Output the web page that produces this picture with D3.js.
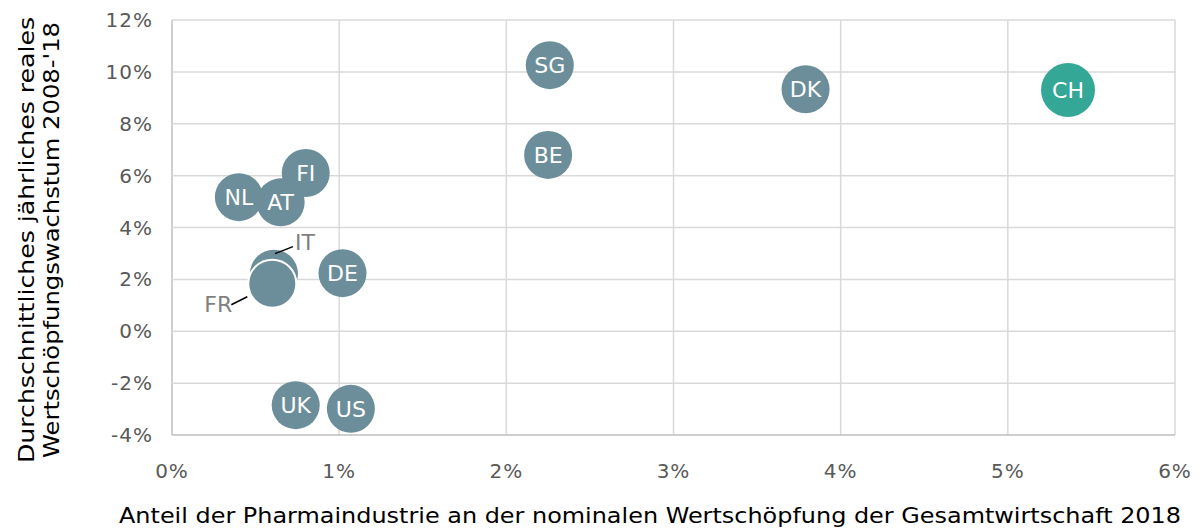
<!DOCTYPE html>
<meta charset="utf-8">
<head>
<style>
body { margin: 0; background: #fff; }
text { font-family: "DejaVu Sans", Verdana, sans-serif; }
</style>
</head>
<script src="https://d3js.org/d3.v7.min.js"></script>
<div id="chart"></div>
<script>
// country codes, x = pharma share of value added 2018 (%), y = avg real growth 2008-'18 (%)
var countries = ["SG", "DK", "CH", "BE", "FI", "NL", "AT", "IT", "FR", "DE", "UK", "US"];
var shareVals = [2.26, 3.79, 5.36, 2.25, 0.80, 0.40, 0.65, 0.61, 0.60, 1.02, 0.74, 1.07];
var growthVals = [10.26, 9.33, 9.30, 6.80, 6.10, 5.17, 4.97, 2.22, 1.83, 2.24, -2.85, -2.99];
var xTicks = [0, 1, 2, 3, 4, 5, 6];
var yTicks = [-4, -2, 0, 2, 4, 6, 8, 10, 12];
var sideLabels = ["IT", "FR"];  // labelled outside the bubble

var W = 1200, H = 532;
var margin = {top: 20, right: 25, bottom: 97, left: 172};
var width = W - margin.left - margin.right,
    height = H - margin.top - margin.bottom;

var svg = d3.select("#chart").append("svg")
  .attr("width", W).attr("height", H);
var g = svg.append("g")
  .attr("transform", "translate(" + margin.left + "," + margin.top + ")");

var x = d3.scaleLinear().domain([0, 6]).range([0, width]);
var y = d3.scaleLinear().domain([-4, 12]).range([height, 0]);

// grid
g.selectAll(".vgrid").data(xTicks).enter().append("line")
  .attr("x1", d => x(d)).attr("x2", d => x(d))
  .attr("y1", 0).attr("y2", height)
  .attr("stroke", d => d === 0 ? "#bfbfbf" : "#d9d9d9").attr("stroke-width", 1.5);
g.selectAll(".hgrid").data(yTicks).enter().append("line")
  .attr("x1", 0).attr("x2", width)
  .attr("y1", d => y(d)).attr("y2", d => y(d))
  .attr("stroke", d => d === -4 ? "#bfbfbf" : "#d9d9d9").attr("stroke-width", 1.5);

// tick labels
g.selectAll(".xt").data(xTicks).enter().append("text")
  .attr("x", d => x(d)).attr("y", height + 43)
  .attr("text-anchor", "middle").attr("font-size", 20).attr("letter-spacing", 1).attr("fill", "#595959")
  .text(d => d + "%");
g.selectAll(".yt").data(yTicks).enter().append("text")
  .attr("x", -19).attr("y", d => y(d) + 7)
  .attr("text-anchor", "end").attr("font-size", 20).attr("letter-spacing", 1).attr("fill", "#595959")
  .text(d => d + "%");

// axis titles
svg.append("text")
  .attr("x", 650).attr("y", 523)
  .attr("text-anchor", "middle").attr("font-size", 21).attr("fill", "#000")
  .attr("textLength", 1062).attr("lengthAdjust", "spacingAndGlyphs")
  .text("Anteil der Pharmaindustrie an der nominalen Wertschöpfung der Gesamtwirtschaft 2018");
var yt = svg.append("g").attr("transform", "translate(0,240) rotate(-90)");
yt.append("text").attr("x", 0).attr("y", 34)
  .attr("text-anchor", "middle").attr("font-size", 21).attr("fill", "#000")
  .attr("textLength", 446).attr("lengthAdjust", "spacingAndGlyphs")
  .text("Durchschnittliches jährliches reales");
yt.append("text").attr("x", 0).attr("y", 59)
  .attr("text-anchor", "middle").attr("font-size", 21).attr("fill", "#000")
  .attr("textLength", 436).attr("lengthAdjust", "spacingAndGlyphs")
  .text("Wertschöpfungswachstum 2008-'18");

var data = countries.map((c, i) => ({c: c, x: shareVals[i], y: growthVals[i]}));

// leader lines for side labels
var leaders = {IT: {dx1: 1, dy1: -20, dx2: 19, dy2: -27, tx: 21, ty: -24, anchor: "start"},
               FR: {dx1: -25, dy1: 13, dx2: -41, dy2: 21, tx: -40, ty: 28, anchor: "end"}};

var dots = g.selectAll(".dot").data(data).enter().append("g")
  .attr("transform", d => "translate(" + x(d.x) + "," + y(d.y) + ")");
dots.append("circle")
  .attr("r", d => d.c === "CH" ? 27 : 24)
  .attr("fill", d => d.c === "CH" ? "#34a797" : "#6b8e9a")
  .attr("stroke", d => d.c === "FR" ? "#fff" : "none")
  .attr("stroke-width", 2);
dots.filter(d => sideLabels.indexOf(d.c) < 0).append("text")
  .attr("text-anchor", "middle").attr("y", 8)
  .attr("font-size", 22).attr("fill", "#fff")
  .text(d => d.c);
dots.filter(d => sideLabels.indexOf(d.c) >= 0).each(function(d) {
  var l = leaders[d.c], s = d3.select(this);
  s.append("line").attr("x1", l.dx1).attr("y1", l.dy1).attr("x2", l.dx2).attr("y2", l.dy2)
    .attr("stroke", "#000").attr("stroke-width", 1.5);
  s.append("text").attr("x", l.tx).attr("y", l.ty).attr("text-anchor", l.anchor)
    .attr("font-size", 22).attr("fill", "#7f7f7f").text(d.c);
});
</script>
